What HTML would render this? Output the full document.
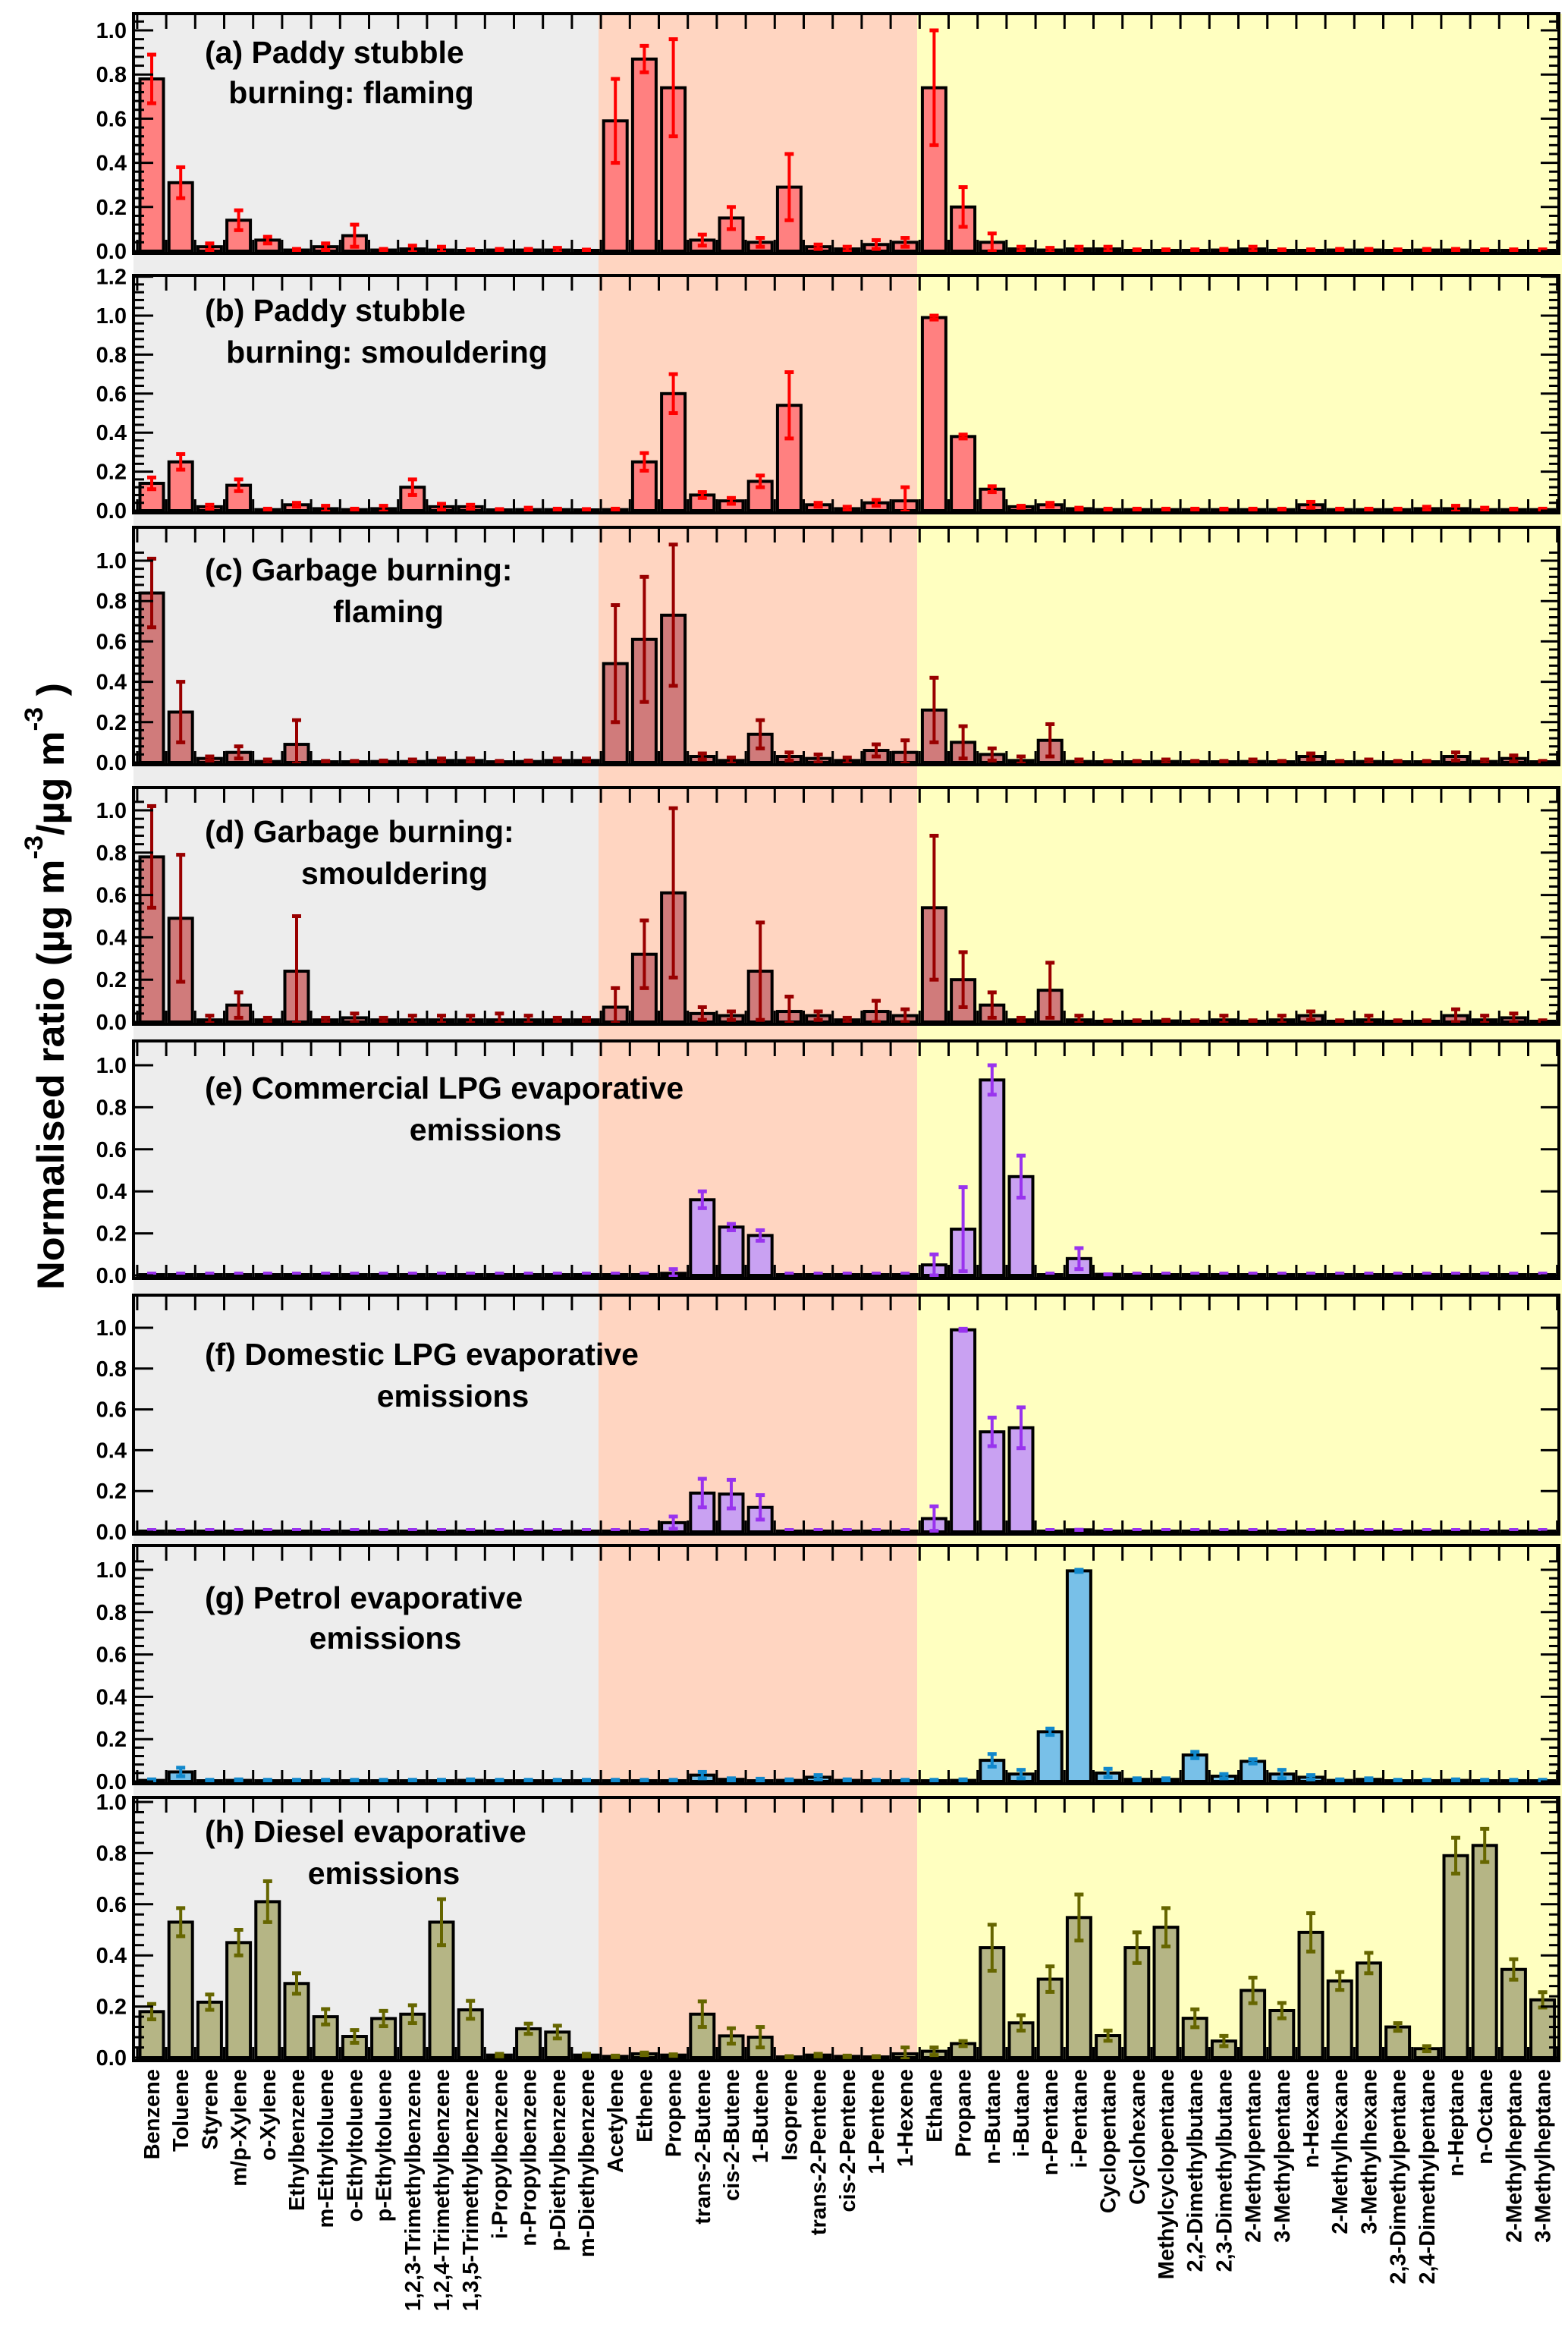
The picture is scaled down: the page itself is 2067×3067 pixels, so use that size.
<!DOCTYPE html>
<html><head><meta charset="utf-8"><style>
html,body{margin:0;padding:0;background:#fff;}
svg{display:block;font-family:"Liberation Sans",sans-serif;}
</style></head><body>
<svg id="chart" width="2067" height="3067" viewBox="0 0 2067 3067" xmlns="http://www.w3.org/2000/svg"></svg>
<script>
const categories=["Benzene","Toluene","Styrene","m/p-Xylene","o-Xylene","Ethylbenzene","m-Ethyltoluene","o-Ethyltoluene","p-Ethyltoluene","1,2,3-Trimethylbenzene","1,2,4-Trimethylbenzene","1,3,5-Trimethylbenzene","i-Propylbenzene","n-Propylbenzene","p-Diethylbenzene","m-Diethylbenzene","Acetylene","Ethene","Propene","trans-2-Butene","cis-2-Butene","1-Butene","Isoprene","trans-2-Pentene","cis-2-Pentene","1-Pentene","1-Hexene","Ethane","Propane","n-Butane","i-Butane","n-Pentane","i-Pentane","Cyclopentane","Cyclohexane","Methylcyclopentane","2,2-Dimethylbutane","2,3-Dimethylbutane","2-Methylpentane","3-Methylpentane","n-Hexane","2-Methylhexane","3-Methylhexane","2,3-Dimethylpentane","2,4-Dimethylpentane","n-Heptane","n-Octane","2-Methylheptane","3-Methylheptane"];
const valsA=[0.78,0.31,0.02,0.14,0.05,0.005,0.02,0.07,0.005,0.01,0.005,0.003,0.005,0.005,0.005,0.002,0.59,0.87,0.74,0.05,0.15,0.04,0.29,0.02,0.01,0.03,0.04,0.74,0.20,0.04,0.01,0.005,0.01,0.01,0.003,0.003,0.003,0.005,0.01,0.003,0.003,0.005,0.005,0.003,0.005,0.005,0.003,0.003,0.003];
const errA=[0.11,0.07,0.015,0.045,0.015,0.005,0.015,0.05,0.005,0.015,0.015,0.005,0.005,0.005,0.01,0.005,0.19,0.06,0.22,0.025,0.05,0.02,0.15,0.01,0.01,0.02,0.02,0.26,0.09,0.04,0.01,0.01,0.01,0.01,0.005,0.005,0.005,0.005,0.01,0.005,0.005,0.005,0.005,0.005,0.005,0.005,0.005,0.005,0.005];
const valsB=[0.14,0.25,0.02,0.13,0.005,0.03,0.01,0.005,0.01,0.12,0.02,0.02,0.003,0.005,0.005,0.003,0.005,0.25,0.6,0.08,0.05,0.15,0.54,0.03,0.01,0.04,0.05,0.99,0.38,0.11,0.02,0.03,0.01,0.005,0.005,0.005,0.005,0.005,0.005,0.005,0.03,0.005,0.005,0.005,0.01,0.01,0.005,0.005,0.005];
const errB=[0.03,0.04,0.01,0.03,0.005,0.01,0.015,0.005,0.015,0.04,0.015,0.01,0.005,0.01,0.005,0.005,0.005,0.045,0.1,0.015,0.015,0.03,0.17,0.01,0.01,0.015,0.07,0.01,0.01,0.015,0.005,0.01,0.005,0.005,0.005,0.005,0.005,0.005,0.005,0.005,0.015,0.005,0.005,0.005,0.01,0.015,0.01,0.005,0.005];
const valsC=[0.84,0.25,0.02,0.05,0.005,0.09,0.003,0.003,0.005,0.005,0.01,0.01,0.003,0.005,0.01,0.01,0.49,0.61,0.73,0.03,0.01,0.14,0.03,0.02,0.01,0.06,0.05,0.26,0.10,0.04,0.01,0.11,0.005,0.003,0.003,0.005,0.003,0.003,0.005,0.003,0.03,0.003,0.005,0.003,0.003,0.03,0.005,0.02,0.003];
const errC=[0.17,0.15,0.01,0.03,0.01,0.12,0.005,0.005,0.005,0.01,0.01,0.01,0.005,0.005,0.01,0.01,0.29,0.31,0.35,0.015,0.015,0.07,0.02,0.02,0.015,0.03,0.06,0.16,0.08,0.03,0.02,0.08,0.01,0.005,0.005,0.01,0.005,0.005,0.01,0.005,0.015,0.005,0.01,0.005,0.005,0.02,0.01,0.015,0.005];
const valsD=[0.78,0.49,0.01,0.08,0.01,0.24,0.01,0.02,0.01,0.01,0.01,0.01,0.01,0.01,0.01,0.01,0.07,0.32,0.61,0.04,0.03,0.24,0.05,0.03,0.01,0.05,0.03,0.54,0.20,0.08,0.01,0.15,0.01,0.003,0.003,0.005,0.003,0.01,0.003,0.01,0.03,0.003,0.01,0.003,0.003,0.03,0.01,0.02,0.003];
const errD=[0.24,0.30,0.02,0.06,0.01,0.26,0.01,0.02,0.01,0.02,0.02,0.02,0.03,0.02,0.01,0.01,0.09,0.16,0.40,0.03,0.02,0.23,0.07,0.02,0.01,0.05,0.03,0.34,0.13,0.06,0.01,0.13,0.02,0.005,0.005,0.005,0.005,0.02,0.005,0.02,0.02,0.005,0.02,0.005,0.005,0.03,0.02,0.02,0.005];
const valsE=[0,0,0,0,0,0,0,0,0,0,0,0,0,0,0,0,0,0,0.01,0.36,0.23,0.19,0,0,0,0,0,0.05,0.22,0.93,0.47,0,0.08,0.005,0,0,0,0,0,0,0,0,0,0,0,0,0,0,0];
const errE=[0,0,0,0,0,0,0,0,0,0,0,0,0,0,0,0,0,0,0.02,0.04,0.015,0.025,0,0,0,0,0,0.05,0.2,0.07,0.1,0,0.05,0,0,0,0,0,0,0,0,0,0,0,0,0,0,0,0];
const valsF=[0,0,0,0,0,0,0,0,0,0,0,0,0,0,0,0,0,0,0.045,0.19,0.185,0.12,0,0,0,0,0,0.065,0.99,0.49,0.51,0,0.01,0,0,0,0,0,0,0,0,0,0,0,0,0,0,0,0];
const errF=[0,0,0,0,0,0,0,0,0,0,0,0,0,0,0,0,0,0,0.03,0.07,0.07,0.06,0,0,0,0,0,0.06,0.005,0.07,0.1,0,0,0,0,0,0,0,0,0,0,0,0,0,0,0,0,0,0];
const valsG=[0.005,0.045,0.003,0.005,0.003,0.003,0.003,0.003,0.003,0.003,0.003,0.005,0.003,0.003,0.003,0.003,0.003,0.003,0.003,0.03,0.01,0.003,0.005,0.02,0.005,0.003,0.003,0.003,0.005,0.10,0.035,0.235,0.995,0.04,0.01,0.01,0.125,0.025,0.095,0.035,0.02,0.005,0.01,0.003,0.003,0.005,0.003,0.003,0.003];
const errG=[0.005,0.02,0.005,0.005,0.005,0.005,0.005,0.005,0.005,0.005,0.005,0.005,0.005,0.005,0.005,0.005,0.005,0.005,0.005,0.015,0.005,0.01,0.005,0.01,0.005,0.005,0.005,0.005,0.005,0.03,0.02,0.015,0.005,0.02,0.005,0.005,0.015,0.01,0.01,0.02,0.01,0.005,0.005,0.005,0.005,0.005,0.005,0.005,0.005];
const valsH=[0.18,0.53,0.217,0.45,0.61,0.29,0.16,0.083,0.153,0.17,0.53,0.187,0.01,0.113,0.10,0.01,0.005,0.015,0.01,0.17,0.085,0.08,0.003,0.01,0.005,0.003,0.015,0.025,0.055,0.43,0.136,0.307,0.548,0.086,0.43,0.51,0.154,0.065,0.263,0.184,0.49,0.30,0.37,0.12,0.035,0.79,0.83,0.345,0.226];
const errH=[0.03,0.055,0.03,0.05,0.08,0.04,0.03,0.025,0.03,0.035,0.09,0.035,0.005,0.02,0.025,0.005,0.003,0.005,0.003,0.05,0.03,0.04,0.003,0.005,0.003,0.003,0.025,0.015,0.01,0.09,0.03,0.05,0.09,0.02,0.06,0.075,0.035,0.02,0.05,0.03,0.075,0.035,0.04,0.015,0.01,0.07,0.065,0.04,0.03];
const yTicksStd=["0.0","0.2","0.4","0.6","0.8","1.0"];
const yTicksB=["0.0","0.2","0.4","0.6","0.8","1.0","1.2"];

const NS="http://www.w3.org/2000/svg";
const svg=document.getElementById('chart');
function mk(tag,attrs,parent){const e=document.createElementNS(NS,tag);for(const k in attrs)e.setAttribute(k,attrs[k]);(parent||svg).appendChild(e);return e;}

const L=176,R=2055,X0=200,STEP=38.2,BW=31;
function xPos(i){return X0+i*STEP;}
const panels=[
 {id:'a',vals:valsA,err:errA,top:18,bot:334,y0:331,y1:40,ticks:yTicksStd,minor:true,fill:'#ff8080',ec:'#ff0000',t1:'(a) Paddy stubble',t2:'burning:  flaming',b1:83,b2:136,c2:463},
 {id:'b',vals:valsB,err:errB,top:363,bot:676,y0:673,y1:416,ticks:yTicksB,minor:true,fill:'#ff8080',ec:'#ff0000',t1:'(b) Paddy stubble',t2:'burning: smouldering',b1:423,b2:478,c2:510},
 {id:'c',vals:valsC,err:errC,top:695,bot:1008,y0:1005,y1:739,ticks:yTicksStd,minor:true,fill:'#d07b7b',ec:'#990000',t1:'(c) Garbage burning:',t2:'flaming',b1:765,b2:820,c2:512},
 {id:'d',vals:valsD,err:errD,top:1038,bot:1350,y0:1347,y1:1068,ticks:yTicksStd,minor:true,fill:'#d07b7b',ec:'#990000',t1:'(d) Garbage burning:',t2:'smouldering',b1:1110,b2:1165,c2:520},
 {id:'e',vals:valsE,err:errE,top:1372,bot:1685,y0:1681,y1:1404,ticks:yTicksStd,minor:false,fill:'#c9a1f2',ec:'#9933ee',t1:'(e) Commercial LPG evaporative',t2:'emissions',b1:1448,b2:1503,c2:640},
 {id:'f',vals:valsF,err:errF,top:1707,bot:2022,y0:2019,y1:1750,ticks:yTicksStd,minor:false,fill:'#c9a1f2',ec:'#9933ee',t1:'(f) Domestic LPG evaporative',t2:'emissions',b1:1799,b2:1854,c2:597},
 {id:'g',vals:valsG,err:errG,top:2037,bot:2351,y0:2348,y1:2069,ticks:yTicksStd,minor:true,fill:'#78c0e8',ec:'#1188cc',t1:'(g) Petrol evaporative',t2:'emissions',b1:2120,b2:2173,c2:508},
 {id:'h',vals:valsH,err:errH,top:2369,bot:2716,y0:2712,y1:2375,ticks:yTicksStd,minor:true,fill:'#b5b585',ec:'#666600',t1:'(h) Diesel evaporative',t2:'emissions',b1:2428,b2:2483,c2:506}
];

const bg=mk('g',{});


const b1=mk('rect',{x:L,y:18,width:789-L,height:2716-18,fill:'#ededed'},bg);


const b2=mk('rect',{x:789,y:18,width:1209-789,height:2716-18,fill:'#ffd5c1'},bg);


const b3=mk('rect',{x:1209,y:18,width:R-1209+4,height:2716-18,fill:'#ffffc0'},bg);



panels.forEach(p=>{
  const g=mk('g',{});
  
  
  const ys=v=>p.y0-v*(p.y0-p.y1);
  p.vals.forEach((v,i)=>{
    const cx=xPos(i);
    const yt=ys(v);
    const r=mk('rect',{x:cx-BW/2,y:Math.min(yt,p.y0-1),width:BW,height:Math.max(p.y0-yt,1),fill:p.fill,stroke:'#000','stroke-width':4},g);
    
    
  });
  p.vals.forEach((v,i)=>{
    const e=p.err[i]; if(v<=0&&e<=0){
      const d=mk('rect',{x:xPos(i)-6,y:p.y0-5,width:12,height:4,fill:p.ec},g);
      
      
      return;}
    const cx=xPos(i);
    const hi=ys(v+e), lo=ys(Math.max(v-e,-0.005));
    const eg=mk('g',{},g);
    
    
    mk('line',{x1:cx,x2:cx,y1:hi,y2:lo,stroke:p.ec,'stroke-width':4},eg);
    mk('rect',{x:cx-6,y:hi-2.5,width:12,height:5,fill:p.ec},eg);
    mk('rect',{x:cx-6,y:lo-2.5,width:12,height:5,fill:p.ec},eg);
  });
  const fr=mk('rect',{x:L,y:p.top,width:R-L,height:p.bot-p.top,fill:'none',stroke:'#000','stroke-width':4},g);
  
  
  for(let k=0;k<=49;k++){
    const tx=xPos(k)-STEP/2;
    mk('line',{x1:tx,x2:tx,y1:p.top,y2:p.top+20,stroke:'#000','stroke-width':3},g);
    mk('line',{x1:tx,x2:tx,y1:p.bot,y2:p.bot-18,stroke:'#000','stroke-width':3},g);
  }
  const ax=mk('g',{},g);
  
  
  p.ticks.forEach(t=>{
    const v=parseFloat(t), y=ys(v);
    mk('line',{x1:L,x2:L+26,y1:y,y2:y,stroke:'#000','stroke-width':3},ax);
    mk('line',{x1:R,x2:R-24,y1:y,y2:y,stroke:'#000','stroke-width':3},ax);
    const tl=mk('text',{x:167,y:y+10,'text-anchor':'end','font-size':29,'font-weight':'bold',fill:'#000'},ax);
    tl.textContent=t;
    
    
  });
  if(p.minor){
    const maxv=parseFloat(p.ticks[p.ticks.length-1]);
    for(let v=0.04;v<maxv+0.05;v+=0.04){
      if(Math.abs(v/0.2-Math.round(v/0.2))<0.01) continue;
      const y=ys(v); if(y<p.top+3) continue;
      mk('line',{x1:L,x2:L+14,y1:y,y2:y,stroke:'#000','stroke-width':3},ax);
      mk('line',{x1:R,x2:R-13,y1:y,y2:y,stroke:'#000','stroke-width':3},ax);
    }
  }
  const t1=mk('text',{x:270,y:p.b1,'font-size':41,'font-weight':'bold',fill:'#000'},g);
  t1.textContent=p.t1;
  
  
  const t2=mk('text',{x:p.c2,y:p.b2,'font-size':41,'font-weight':'bold','text-anchor':'middle',fill:'#000'},g);
  t2.textContent=p.t2;
  
  
});

const xl=mk('g',{});


categories.forEach((c,i)=>{
  const x=xPos(i)+1, y=2727;
  const t=mk('text',{x:x,y:y,'text-anchor':'end','font-size':29,'font-weight':'bold',fill:'#000',transform:`rotate(-90 ${x} ${y})`,'dominant-baseline':'central'},xl);
  t.textContent=c;
  
  
});

const yt=mk('text',{x:0,y:0,'font-size':50,'font-weight':'bold',fill:'#000','text-anchor':'middle',transform:'translate(84 1300) rotate(-90)',textLength:800,lengthAdjust:'spacingAndGlyphs'});


yt.innerHTML='Normalised ratio (µg m<tspan dy="-28" font-size="34">-3</tspan><tspan dy="28">/µg m</tspan><tspan dy="-28" font-size="34">-3</tspan><tspan dy="28"> )</tspan>';
</script>
</body></html>
